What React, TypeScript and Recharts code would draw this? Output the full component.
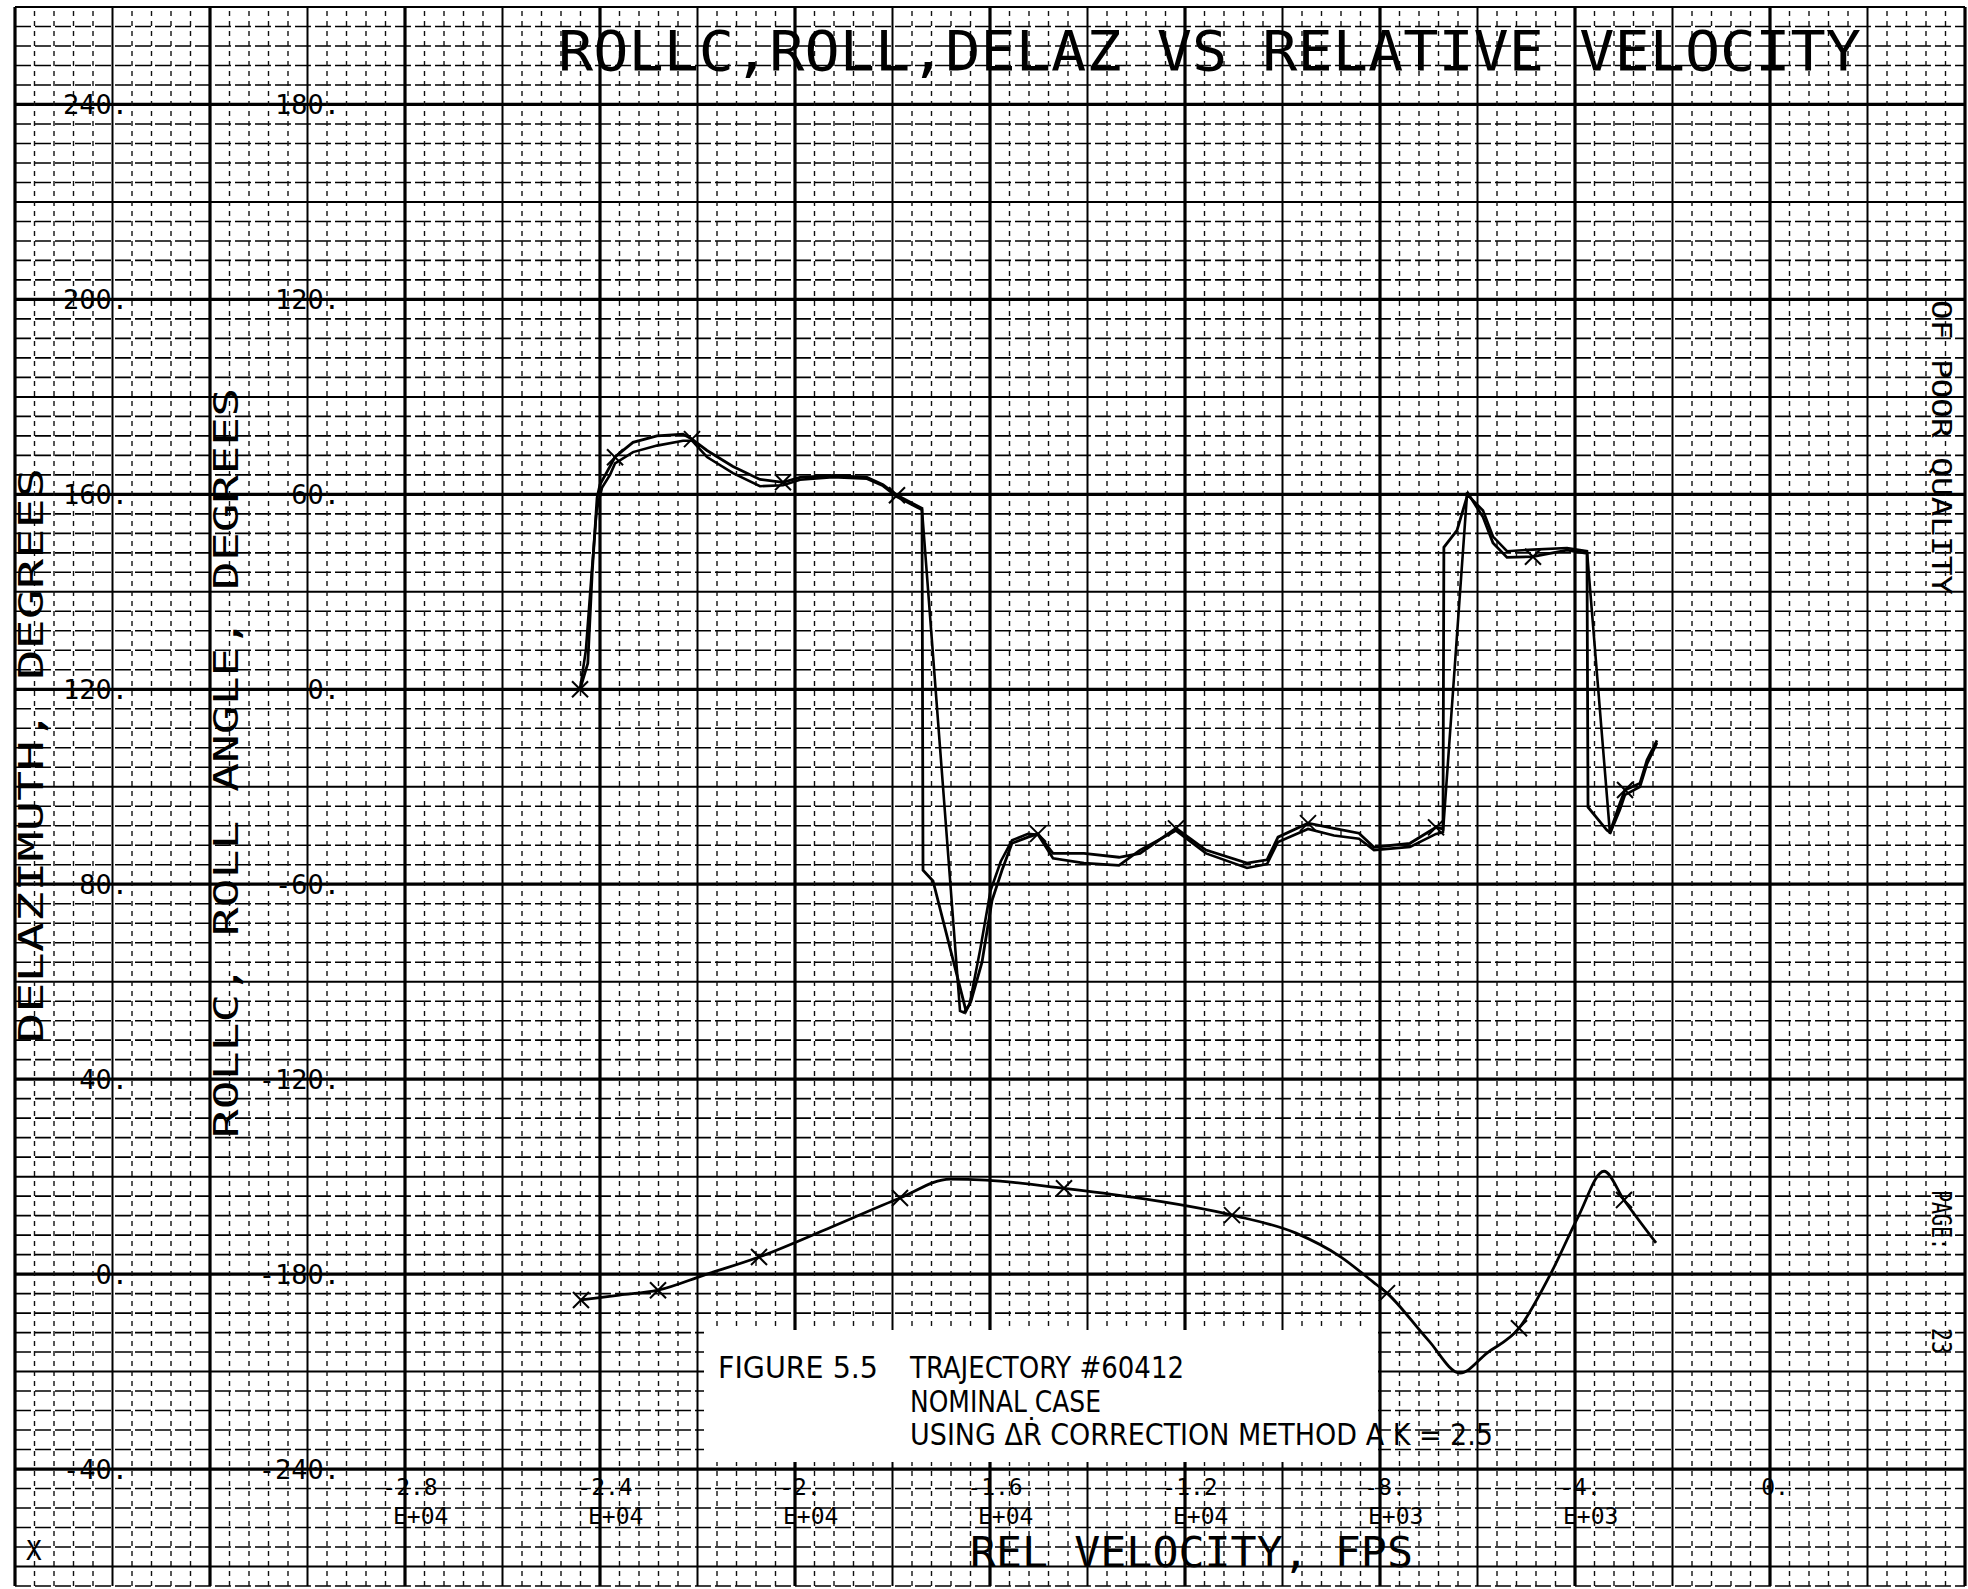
import React from 'react'
import { ComposedChart, Line, Scatter, XAxis, YAxis, ReferenceLine } from 'recharts'

const MONO = "'DejaVu Sans Mono', 'Liberation Mono', monospace"
const NARROW = "'DejaVu Sans Condensed', 'Liberation Sans Narrow', 'Liberation Sans', sans-serif"

// axis ticks
const velTicks = [-28000, -24000, -20000, -16000, -12000, -8000, -4000, 0]
const velTickTop = ['-2.8', '-2.4', '-2.', '-1.6', '-1.2', '-8.', '-4.', '0.']
const velTickExp = ['E+04', 'E+04', 'E+04', 'E+04', 'E+04', 'E+03', 'E+03', '']
const delazTicks = [240, 200, 160, 120, 80, 40, 0, -40]
const rollTicks = [180, 120, 60, 0, -60, -120, -180, -240]

// [rel velocity fps, roll deg] - commanded roll (steps)
const rollcTrace: [number, number][] = [
  [-24410, 0], [-24250, 8], [-24160, 36], [-24060, 59], [-24000, 63], [-23795, 68.6],
  [-23692, 71.5], [-23323, 76], [-22831, 78], [-22297, 78.5], [-22113, 77], [-21805, 73.5],
  [-21272, 68.6], [-20718, 64.6], [-20246, 63.7], [-19897, 65.2], [-19220, 65.8], [-18523, 65.2],
  [-18195, 63], [-17908, 59.7], [-17395, 55.7], [-17374, -55.7], [-17169, -59], [-16492, -99],
  [-16390, -96], [-16164, -84], [-15959, -65], [-15754, -55.7], [-15549, -47.4], [-15220, -45.5],
  [-15015, -44.5], [-14708, -50.5], [-14072, -50.5], [-13354, -51.7], [-12923, -50.5], [-12185, -42.8],
  [-11569, -49.5], [-10728, -53.5], [-10318, -52.5], [-10092, -45.5], [-9477, -41.2], [-8944, -42.8],
  [-8431, -44.3], [-8123, -48.6], [-7385, -47.4], [-6851, -42.5], [-6708, -43], [-6690, 43.7],
  [-6421, 48.9], [-6195, 60.3], [-5887, 53], [-5682, 45], [-5395, 40.6], [-4862, 40.8],
  [-4164, 42.8], [-3754, 41.8], [-3733, -36.3], [-3344, -43.4], [-3282, -44], [-3077, -35],
  [-2974, -31], [-2667, -28.9], [-2523, -21.8], [-2318, -15.7],
]

// actual roll (rate limited)
const rollTrace: [number, number][] = [
  [-24410, 0], [-24290, 12], [-24180, 34], [-24070, 55], [-23960, 62], [-23795, 66],
  [-23692, 69.5], [-23323, 73], [-22831, 75], [-22297, 76.5], [-22113, 76.5], [-21805, 71.5],
  [-21272, 66.5], [-20718, 62.5], [-20246, 62.8], [-19897, 64.5], [-19220, 65.3], [-18523, 64.8],
  [-18195, 62.6], [-17908, 59.2], [-17395, 55.2], [-16615, -99], [-16533, -99.5], [-16420, -97],
  [-16200, -80], [-15990, -62], [-15780, -53], [-15549, -46.5], [-15220, -44.5], [-15015, -44.8],
  [-14708, -52], [-14072, -53.5], [-13354, -54.2], [-12923, -49.5], [-12185, -43.5], [-11569, -50.5],
  [-10728, -55], [-10318, -53.8], [-10092, -47], [-9477, -43], [-8944, -45], [-8431, -46],
  [-8123, -49.5], [-7385, -48.5], [-6851, -44.5], [-6708, -44], [-6215, 60], [-5887, 55],
  [-5682, 47], [-5395, 42.5], [-4862, 43], [-4164, 43.5], [-3754, 42.5], [-3282, -44.5],
  [-3077, -37], [-2974, -32.5], [-2667, -30], [-2523, -23], [-2318, -16.5],
]

// delta azimuth, deg
const delazTrace: [number, number][] = [
  [-24390, -5.3], [-23600, -4.3], [-22810, -3.3], [-21866, -0.2], [-20738, 3.5], [-19262, 9.6],
  [-17846, 15.6], [-16820, 19.5], [-16082, 19.3], [-14482, 17.6], [-13087, 15.8], [-11036, 12.1],
  [-9723, 8.4], [-8800, 3.5], [-8144, -1.6], [-7856, -3.9], [-7015, -13.5], [-6359, -20.3],
  [-5805, -16.2], [-5149, -11.1], [-4492, 0.2], [-3938, 11.7], [-3405, 21.1], [-2995, 15.2],
  [-2338, 6.4],
]

// plotter symbols
const rollMarks: [number, number][] = [
  [-24410, 0], [-23692, 71.4], [-22113, 77], [-20246, 63.7], [-17908, 59.7], [-15015, -44.5],
  [-12185, -42.8], [-9477, -41.2], [-6851, -42.5], [-4862, 40.8], [-2974, -31],
]
const delazMarks: [number, number][] = [
  [-24390, -5.3], [-22810, -3.3], [-20738, 3.5], [-17846, 15.6], [-14482, 17.6], [-11036, 12.1],
  [-7856, -3.9], [-5149, -11.1], [-2995, 15.2],
]

const toRows = (t: [number, number][]) => t.map(([v, y]) => ({ v, y }))

const hGrid: number[] = []
for (let d = -64; d <= 260; d += 4) hGrid.push(d)
const vGrid: number[] = []
for (let v = -36000; v <= 4000; v += 400) vGrid.push(v)

function gridStyle(major: boolean, medium: boolean, vertical: boolean) {
  if (major) return { stroke: '#000', strokeWidth: 3.2 }
  if (medium) return { stroke: '#000', strokeWidth: 2 }
  return vertical
    ? { stroke: '#111', strokeWidth: 1.4, strokeDasharray: '5 5' }
    : { stroke: '#000', strokeWidth: 1.6, strokeDasharray: '16 4' }
}

function XMark(props: any) {
  const { cx, cy } = props
  if (cx == null || cy == null) return null
  const s = 8
  return (
    <g stroke="#000" strokeWidth={2}>
      <line x1={cx - s} y1={cy - s} x2={cx + s} y2={cy + s} />
      <line x1={cx - s} y1={cy + s} x2={cx + s} y2={cy - s} />
    </g>
  )
}

function VelTick(props: any) {
  const { x, payload } = props
  const i = velTicks.indexOf(payload.value)
  return (
    <g fontFamily={MONO} fontSize={23} fill="#000">
      <text x={x + 5} y={1495} textAnchor="middle">{velTickTop[i]}</text>
      <text x={x - 12} y={1524} textAnchor="start">{velTickExp[i]}</text>
    </g>
  )
}

function DelazTick(props: any) {
  const { y, payload } = props
  return (
    <text x={128} y={y + 10} textAnchor="end" fontFamily={MONO} fontSize={27} fill="#000">
      {`${payload.value}.`}
    </text>
  )
}

function RollTick(props: any) {
  const { y, payload } = props
  return (
    <text x={340} y={y + 10} textAnchor="end" fontFamily={MONO} fontSize={27} fill="#000">
      {`${payload.value}.`}
    </text>
  )
}

export default function App() {
  return (
    <div style={{ position: 'relative', width: 1968, height: 1589, background: '#fff', overflow: 'hidden' }}>
      <style>{'body{margin:0;background:#fff}'}</style>
      <ComposedChart width={1968} height={1589} margin={{ top: 7, right: 3, bottom: 3, left: 15 }}>
        <XAxis
          type="number" dataKey="v" domain={[-36000, 4000]} allowDataOverflow mirror
          ticks={velTicks} interval={0} height={40} axisLine={false} tickLine={false}
          tick={<VelTick />}
        />
        <YAxis
          yAxisId="d" type="number" domain={[-64, 260]} allowDataOverflow mirror
          ticks={delazTicks} interval={0} width={60} axisLine={false} tickLine={false}
          tick={<DelazTick />}
        />
        <YAxis
          yAxisId="r" type="number" domain={[-276, 210]} allowDataOverflow mirror
          ticks={rollTicks} interval={0} width={60} axisLine={false} tickLine={false}
          tick={<RollTick />}
        />
        {hGrid.map(d => (
          <ReferenceLine key={'h' + d} yAxisId="d" y={d} {...gridStyle(d % 40 === 0, d % 20 === 0, false)} />
        ))}
        {vGrid.map(v => (
          <ReferenceLine key={'v' + v} yAxisId="d" x={v} {...gridStyle(v % 4000 === 0, v % 2000 === 0, true)} />
        ))}
        <Line yAxisId="r" data={toRows(rollcTrace)} dataKey="y" type="linear" stroke="#000"
          strokeWidth={2.8} dot={false} isAnimationActive={false} />
        <Line yAxisId="r" data={toRows(rollTrace)} dataKey="y" type="linear" stroke="#000"
          strokeWidth={2.6} dot={false} isAnimationActive={false} />
        <Line yAxisId="d" data={toRows(delazTrace)} dataKey="y" type="monotone" stroke="#000"
          strokeWidth={2.8} dot={false} isAnimationActive={false} />
        <Scatter yAxisId="r" data={toRows(rollMarks)} dataKey="y" shape={<XMark />} isAnimationActive={false} />
        <Scatter yAxisId="d" data={toRows(delazMarks)} dataKey="y" shape={<XMark />} isAnimationActive={false} />
      </ComposedChart>

      <div style={{ position: 'absolute', left: 704, top: 1330, width: 674, height: 132, background: '#fff' }} />

      <svg width={1968} height={1589} style={{ position: 'absolute', left: 0, top: 0, pointerEvents: 'none' }}>
        <g fill="#000">
          <text x={558} y={70} fontFamily={MONO} fontSize={55} textLength={1303} lengthAdjust="spacingAndGlyphs">
            ROLLC,ROLL,DELAZ  VS  RELATIVE VELOCITY
          </text>
          <text transform="translate(43,1043) rotate(-90)" fontFamily={MONO} fontSize={34}
            textLength={575} lengthAdjust="spacingAndGlyphs">
            DELAZIMUTH, DEGREES
          </text>
          <text transform="translate(238,1138) rotate(-90)" fontFamily={MONO} fontSize={34}
            textLength={750} lengthAdjust="spacingAndGlyphs">
            ROLLC,  ROLL  ANGLE,  DEGREES
          </text>
          <text x={970} y={1567} fontFamily={MONO} fontSize={42} textLength={443} lengthAdjust="spacingAndGlyphs">
            REL  VELOCITY, FPS
          </text>
          <text x={26} y={1560} fontFamily={MONO} fontSize={26}>X</text>

          <g fontFamily={NARROW} fontSize={30}>
            <text x={718} y={1378} textLength={160} lengthAdjust="spacingAndGlyphs">FIGURE 5.5</text>
            <text x={910} y={1378} textLength={274} lengthAdjust="spacingAndGlyphs">TRAJECTORY #60412</text>
            <text x={910} y={1412} textLength={191} lengthAdjust="spacingAndGlyphs">NOMINAL CASE</text>
            <text x={910} y={1445} textLength={583} lengthAdjust="spacingAndGlyphs">
              USING ΔṘ CORRECTION METHOD A  K = 2.5
            </text>
          </g>

          <g fontFamily={MONO} fontSize={26}>
            <text transform="translate(1932,300) rotate(90)" textLength={295} lengthAdjust="spacingAndGlyphs">
              OF POOR QUALITY
            </text>
            <text transform="translate(1932,1190) rotate(90)" textLength={60} lengthAdjust="spacingAndGlyphs">PAGE:</text>
            <text transform="translate(1932,1328) rotate(90)" textLength={26} lengthAdjust="spacingAndGlyphs">23</text>
          </g>
        </g>
      </svg>
    </div>
  )
}
